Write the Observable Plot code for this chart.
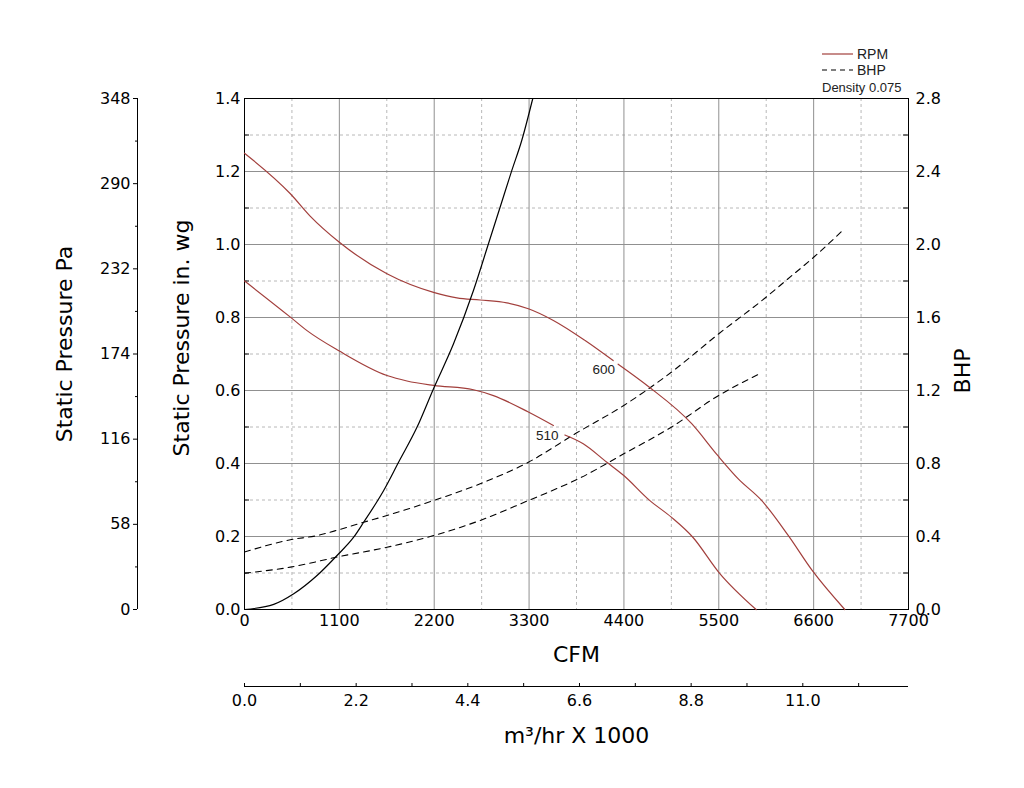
<!DOCTYPE html>
<html><head><meta charset="utf-8">
<script src="https://cdn.jsdelivr.net/npm/d3@7"></script>
<script src="https://cdn.jsdelivr.net/npm/@observablehq/plot@0.6"></script>
<style>
body{margin:0;background:#fff;}
#wrap{position:relative;width:1024px;height:788px;}
#legend{position:absolute;left:822px;top:46px;font-family:"Liberation Sans",Arial,sans-serif;font-size:14px;color:#222;line-height:16px;}
#legend .row{display:flex;align-items:center;height:16px;}
#legend svg{margin-right:4px;}
</style></head><body><div id="wrap"><div id="legend"></div></div>
<script>
// ---- tick values ----
const cfmTicks = [0, 1100, 2200, 3300, 4400, 5500, 6600, 7700];
const cfmMinor = [550, 1650, 2750, 3850, 4950, 6050, 7150];
const spTicks = [0, 0.2, 0.4, 0.6, 0.8, 1.0, 1.2, 1.4];
const spMinor = [0.1, 0.3, 0.5, 0.7, 0.9, 1.1, 1.3];
const bhpTicks = [0, 0.4, 0.8, 1.2, 1.6, 2.0, 2.4, 2.8];
const paTicks = [0, 58, 116, 174, 232, 290, 348];
const paMinor = [29, 87, 145, 203, 261, 319];
const m3Ticks = [0, 2.2, 4.4, 6.6, 8.8, 11.0];
const m3Minor = [1.1, 3.3, 5.5, 7.7, 9.9, 12.1];

// ---- series (CFM vs static pressure in. wg / BHP) ----
const rpm600Cfm = [0, 532, 764, 1100, 1652, 2192, 2463, 2733, 3042, 3292, 3582, 3950, 4275, 4300, 4333, 4684, 5186, 5487, 5726, 5996, 6305, 6583, 6961];
const rpm600Sp  = [1.25, 1.139, 1.077, 1.006, 0.920, 0.869, 0.854, 0.848, 0.840, 0.824, 0.792, 0.737, 0.682, null, 0.672, 0.611, 0.509, 0.422, 0.358, 0.299, 0.203, 0.107, 0];
const rpm510Cfm = [0, 532, 725, 1100, 1652, 1884, 2192, 2655, 2887, 3292, 3582, 3650, 3715, 3928, 4198, 4398, 4698, 4949, 5199, 5500, 5933];
const rpm510Sp  = [0.90, 0.801, 0.764, 0.708, 0.641, 0.626, 0.614, 0.602, 0.586, 0.541, 0.504, null, 0.478, 0.454, 0.404, 0.367, 0.299, 0.253, 0.198, 0.102, 0];
const systemCfm = [0, 339, 571, 841, 1073, 1266, 1382, 1614, 1788, 2000, 2192, 2424, 2655, 2829, 2964, 3100, 3215, 3343];
const systemSp  = [0, 0.014, 0.043, 0.093, 0.148, 0.198, 0.239, 0.326, 0.404, 0.499, 0.605, 0.728, 0.874, 1.002, 1.102, 1.203, 1.285, 1.40];
const bhp600Cfm = [0, 532, 841, 1100, 1382, 1652, 2192, 2733, 3292, 3853, 4398, 4949, 5500, 6048, 6280, 6600, 6961];
const bhp600Val = [0.315, 0.382, 0.405, 0.438, 0.478, 0.515, 0.597, 0.689, 0.807, 0.968, 1.118, 1.300, 1.511, 1.711, 1.803, 1.93, 2.088];
const bhp510Cfm = [0, 532, 1100, 1652, 2192, 2733, 3292, 3658, 3871, 4398, 4949, 5500, 5951];
const bhp510Val = [0.199, 0.232, 0.290, 0.341, 0.405, 0.488, 0.597, 0.670, 0.716, 0.853, 0.999, 1.173, 1.286];

const curveLabels = ["600", "510"];
const curveLabelCfm = [4167, 3510];
const curveLabelSp = [0.658, 0.475];

// ---- conversions between axes ----
const PA_MAX = 348, SP_MAX = 1.4, BHP_MAX = 2.8, M3_PER_CFM = 1.699 / 1000;
const paToSp = p => p * SP_MAX / PA_MAX;
const bhpToSp = b => b * SP_MAX / BHP_MAX;
const m3ToCfm = m => m / M3_PER_CFM;

const toRows = (xs, ys, f = v => v) => xs.map((c, i) => ({cfm: c, v: ys[i] == null ? null : f(ys[i])}));
const rpm600 = toRows(rpm600Cfm, rpm600Sp);
const rpm510 = toRows(rpm510Cfm, rpm510Sp);
const system = toRows(systemCfm, systemSp);
const bhp600 = toRows(bhp600Cfm, bhp600Val, bhpToSp);
const bhp510 = toRows(bhp510Cfm, bhp510Val, bhpToSp);
const labels = curveLabels.map((t, i) => ({t, cfm: curveLabelCfm[i], v: curveLabelSp[i]}));

const RED = "#a23f3c";
const FONT = "DejaVu Sans, Liberation Sans, sans-serif";
const CURVE = "monotone-x";

const chart = Plot.plot({
  width: 1024, height: 788,
  marginLeft: 244, marginRight: 116, marginTop: 98, marginBottom: 179,
  style: {fontFamily: FONT, fontSize: "16px", color: "#000", background: "#fff"},
  x: {domain: [0, 7700]},
  y: {domain: [0, 1.4]},
  marks: [
    // grid
    Plot.ruleX(cfmMinor, {stroke: "#b8b8b8", strokeDasharray: "3,3"}),
    Plot.ruleY(spMinor, {stroke: "#b8b8b8", strokeDasharray: "3,3"}),
    Plot.ruleX(cfmTicks.slice(1, -1), {stroke: "#909090"}),
    Plot.ruleY(spTicks.slice(1, -1), {stroke: "#909090"}),
    Plot.frame({stroke: "#000"}),
    // inward minor ticks
    Plot.tickY(spMinor, {insetRight: 659, stroke: "#000"}),
    Plot.tickY(spMinor, {insetLeft: 659, stroke: "#000"}),
    // curves
    Plot.line(bhp600, {x: "cfm", y: "v", curve: CURVE, stroke: "#000", strokeWidth: 1.1, strokeDasharray: "6,5"}),
    Plot.line(bhp510, {x: "cfm", y: "v", curve: CURVE, stroke: "#000", strokeWidth: 1.1, strokeDasharray: "6,5"}),
    Plot.line(rpm600, {x: "cfm", y: "v", curve: CURVE, stroke: RED, strokeWidth: 1.2}),
    Plot.line(rpm510, {x: "cfm", y: "v", curve: CURVE, stroke: RED, strokeWidth: 1.2}),
    Plot.line(system, {x: "cfm", y: "v", curve: CURVE, stroke: "#000", strokeWidth: 1.2}),
    Plot.text(labels, {x: "cfm", y: "v", text: "t", fontSize: 13.5, fontFamily: "Liberation Sans, Arial, sans-serif", fill: "#222"}),
    // main axes
    Plot.axisX({ticks: cfmTicks, tickSize: 0, tickPadding: 5, tickFormat: d => String(d), label: null}),
    Plot.axisY({anchor: "left", ticks: spTicks, tickSize: 0, tickPadding: 4, tickFormat: d => d.toFixed(1), label: null}),
    Plot.axisY({anchor: "right", ticks: bhpTicks.map(bhpToSp), tickSize: 0, tickPadding: 7, tickFormat: d => (d * BHP_MAX / SP_MAX).toFixed(1), label: null}),
    // Pa axis
    Plot.ruleX([0], {dx: -107, stroke: "#000"}),
    Plot.axisY({anchor: "left", ticks: paTicks.map(paToSp), tickSize: 4, tickPadding: 3, dx: -107, tickFormat: d => String(Math.round(d * PA_MAX / SP_MAX)), label: null}),
    Plot.axisY({anchor: "left", ticks: paMinor.map(paToSp), tickSize: 2, dx: -107, tickFormat: () => "", label: null}),
    // m3/hr axis
    Plot.ruleY([0], {dy: 77, stroke: "#000"}),
    Plot.tickX(m3Ticks.concat(m3Minor).map(m3ToCfm).filter(c => c <= 7700), {insetTop: 508, dy: 77, stroke: "#000"}),
    Plot.axisX({ticks: m3Ticks.map(m3ToCfm), tickSize: 0, tickPadding: 8, dy: 77, tickFormat: d => (d * M3_PER_CFM).toFixed(1), label: null}),
    // titles
    Plot.text(["Static Pressure Pa"], {frameAnchor: "left", textAnchor: "middle", dx: -180, dy: -10, rotate: -90, fontSize: 22}),
    Plot.text(["Static Pressure in. wg"], {frameAnchor: "left", textAnchor: "middle", dx: -63, dy: -16, rotate: -90, fontSize: 22}),
    Plot.text(["BHP"], {frameAnchor: "right", textAnchor: "middle", dx: 54, dy: 17, rotate: -90, fontSize: 22}),
    Plot.text(["CFM"], {frameAnchor: "bottom", textAnchor: "middle", dy: 52, fontSize: 22}),
    Plot.text(["m³/hr X 1000"], {frameAnchor: "bottom", textAnchor: "middle", dy: 133, fontSize: 22})
  ]
});
document.getElementById("wrap").appendChild(chart);

// legend
const legendItems = [{name: "RPM", color: RED, dash: null}, {name: "BHP", color: "#000", dash: "5,4"}];
const leg = document.getElementById("legend");
legendItems.forEach(it => {
  const row = document.createElement("div");
  row.className = "row";
  row.innerHTML = `<svg width="31" height="6"><line x1="0" x2="31" y1="3" y2="3" stroke="${it.color}" stroke-width="1.2" ${it.dash ? `stroke-dasharray="${it.dash}"` : ""}/></svg><span>${it.name}</span>`;
  leg.appendChild(row);
});
const dens = document.createElement("div");
dens.style.marginTop = "2px";
dens.style.fontSize = "13px";
dens.textContent = "Density 0.075";
leg.appendChild(dens);
</script></body></html>
